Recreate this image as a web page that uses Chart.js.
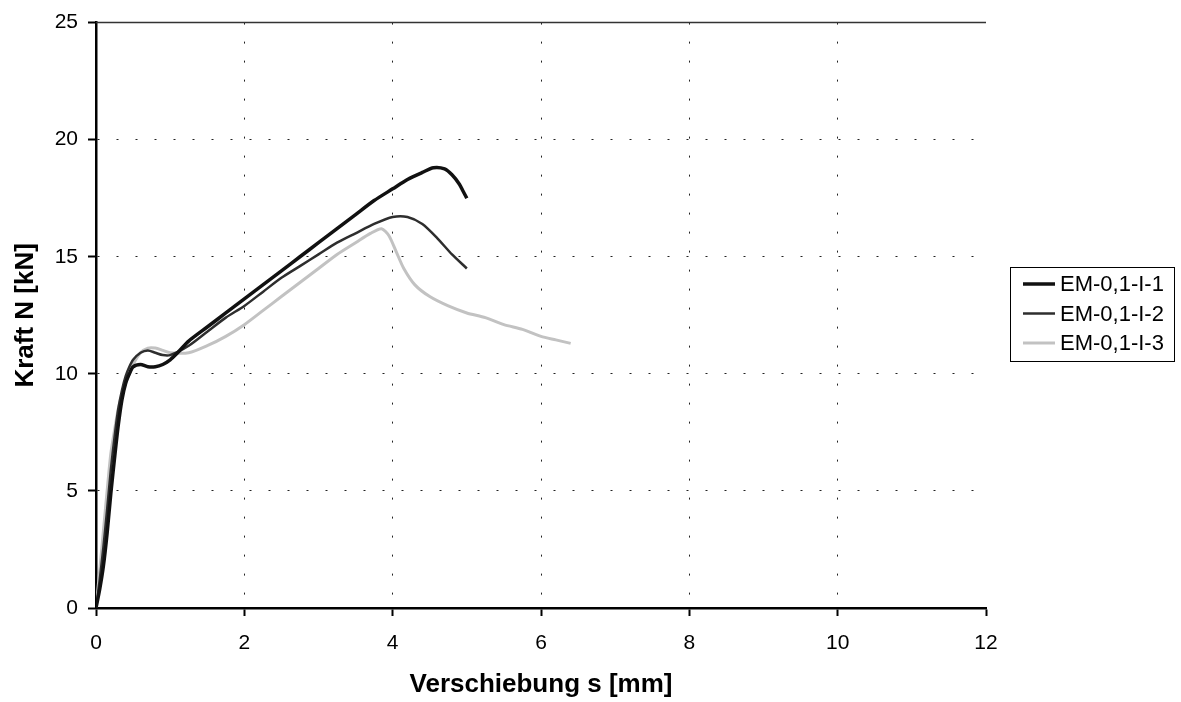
<!DOCTYPE html>
<html>
<head>
<meta charset="utf-8">
<script src="https://cdn.jsdelivr.net/npm/chart.js@4.4.0/dist/chart.umd.min.js"></script>
<style>
  body { margin: 0; background: #fff; }
  #wrap { width: 1181px; height: 702px; }
</style>
</head>
<body>
<div id="wrap"><canvas id="myChart" width="1181" height="702"></canvas></div>
<script>
// values
const xTicks = [0, 2, 4, 6, 8, 10, 12]
const yTicks = [0, 5, 10, 15, 20, 25]

const labels = ['EM-0,1-I-1', 'EM-0,1-I-2', 'EM-0,1-I-3']

const s1x = [0, 0.05, 0.1, 0.15, 0.2, 0.25, 0.3, 0.35, 0.4, 0.45, 0.5, 0.6, 0.7, 0.8, 0.9, 1.0, 1.1, 1.25, 1.5, 1.75, 2.0, 2.25, 2.5, 2.75, 3.0, 3.25, 3.5, 3.75, 4.0, 4.2, 4.4, 4.55, 4.7, 4.8, 4.9, 4.95, 5.0]
const s1y = [0, 0.8, 1.8, 3.2, 4.9, 6.4, 7.8, 8.9, 9.6, 10.0, 10.3, 10.4, 10.3, 10.3, 10.4, 10.6, 10.9, 11.4, 12.0, 12.6, 13.2, 13.8, 14.4, 15.0, 15.6, 16.2, 16.8, 17.4, 17.9, 18.3, 18.6, 18.8, 18.75, 18.5, 18.1, 17.8, 17.5]

const s2x = [0, 0.05, 0.1, 0.15, 0.2, 0.25, 0.3, 0.35, 0.4, 0.45, 0.5, 0.6, 0.7, 0.8, 0.9, 1.0, 1.25, 1.5, 1.75, 2.0, 2.25, 2.5, 2.75, 3.0, 3.25, 3.5, 3.75, 4.0, 4.2, 4.4, 4.6, 4.8, 5.0]
const s2y = [0, 1.2, 2.6, 4.2, 5.9, 7.3, 8.5, 9.3, 9.9, 10.3, 10.6, 10.9, 11.0, 10.9, 10.8, 10.8, 11.2, 11.8, 12.4, 12.9, 13.5, 14.1, 14.6, 15.1, 15.6, 16.0, 16.4, 16.7, 16.7, 16.4, 15.8, 15.1, 14.5]

const s3x = [0, 0.05, 0.1, 0.15, 0.2, 0.25, 0.3, 0.35, 0.4, 0.45, 0.5, 0.6, 0.7, 0.8, 0.9, 1.0, 1.25, 1.5, 1.75, 2.0, 2.25, 2.5, 2.75, 3.0, 3.25, 3.5, 3.7, 3.85, 3.95, 4.05, 4.15, 4.3, 4.5, 4.75, 5.0, 5.25, 5.5, 5.75, 6.0, 6.2, 6.4]
const s3y = [0, 1.6, 3.3, 5.0, 6.6, 7.6, 8.5, 9.1, 9.6, 10.0, 10.4, 10.9, 11.1, 11.1, 11.0, 10.9, 10.9, 11.2, 11.6, 12.1, 12.7, 13.3, 13.9, 14.5, 15.1, 15.6, 16.0, 16.2, 15.9, 15.2, 14.5, 13.8, 13.3, 12.9, 12.6, 12.4, 12.1, 11.9, 11.6, 11.45, 11.3]

const colors = ['#111111', '#2e2e2e', '#c2c2c2']
const widths = [3.5, 2.5, 3]

function pts(xs, ys) {
  return xs.map((x, i) => ({ x: x, y: ys[i] }))
}

const series = [pts(s1x, s1y), pts(s2x, s2y), pts(s3x, s3y)]

// legend with a box, drawn after the chart
const boxLegend = {
  id: 'boxLegend',
  afterDraw(chart) {
    const c = chart.ctx
    const left = 1010, top = 267, w = 164, h = 94
    c.save()
    c.strokeStyle = '#000'
    c.lineWidth = 1
    c.strokeRect(left + 0.5, top + 0.5, w, h)
    c.font = '22px Arial, "Liberation Sans", sans-serif'
    c.textBaseline = 'middle'
    chart.data.datasets.forEach((ds, i) => {
      const y = top + 17 + i * 29.5
      c.strokeStyle = ds.borderColor
      c.lineWidth = ds.borderWidth
      c.beginPath()
      c.moveTo(left + 13, y)
      c.lineTo(left + 45, y)
      c.stroke()
      c.fillStyle = '#000'
      c.fillText(ds.label, left + 50, y + 1)
    })
    c.restore()
  }
}

// top border line
const topLine = {
  id: 'topLine',
  beforeDatasetsDraw(chart) {
    const a = chart.chartArea
    const c = chart.ctx
    c.save()
    c.strokeStyle = '#333'
    c.lineWidth = 1.5
    c.beginPath()
    c.moveTo(a.left, a.top)
    c.lineTo(a.right, a.top)
    c.stroke()
    c.restore()
  }
}

const ctx = document.getElementById('myChart')

new Chart(ctx, {
  type: 'scatter',
  data: {
    datasets: series.map((d, i) => ({
      label: labels[i],
      data: d,
      showLine: true,
      borderColor: colors[i],
      backgroundColor: colors[i],
      borderWidth: widths[i],
      pointRadius: 0,
      tension: 0.25
    }))
  },
  options: {
    responsive: false,
    animation: false,
    layout: { padding: { left: 0, right: 195, top: 21, bottom: 0 } },
    plugins: {
      legend: { display: false },
      tooltip: { enabled: false }
    },
    scales: {
      x: {
        type: 'linear',
        min: xTicks[0],
        max: xTicks[xTicks.length - 1],
        afterBuildTicks: (s) => { s.ticks = xTicks.map(v => ({ value: v })) },
        afterFit: (s) => { s.height = 94 },
        ticks: {
          color: '#000',
          font: { family: 'Arial, "Liberation Sans", sans-serif', size: 21 },
          padding: 15,
          maxRotation: 0
        },
        grid: {
          color: (c) => (c.tick && (c.tick.value === 0 || c.tick.value === 12)) ? 'rgba(0,0,0,0)' : '#222',
          lineWidth: 1,
          tickLength: 8,
          tickColor: '#000',
          tickWidth: 2
        },
        border: { display: true, color: '#000', width: 2.5, dash: [2, 17] },
        title: {
          display: true,
          text: 'Verschiebung s [mm]',
          color: '#000',
          font: { family: 'Arial, "Liberation Sans", sans-serif', size: 26, weight: 'bold' },
          padding: { top: 0, bottom: 2 }
        }
      },
      y: {
        type: 'linear',
        min: yTicks[0],
        max: yTicks[yTicks.length - 1],
        afterBuildTicks: (s) => { s.ticks = yTicks.map(v => ({ value: v })) },
        afterFit: (s) => { s.width = 96 },
        ticks: {
          color: '#000',
          font: { family: 'Arial, "Liberation Sans", sans-serif', size: 21 },
          padding: 10
        },
        grid: {
          color: (c) => (c.tick && (c.tick.value === 0 || c.tick.value === 25)) ? 'rgba(0,0,0,0)' : '#222',
          lineWidth: 1,
          tickLength: 8,
          tickColor: '#000',
          tickWidth: 2
        },
        border: { display: true, color: '#000', width: 2.5, dash: [2, 17] },
        title: {
          display: true,
          text: 'Kraft N [kN]',
          color: '#000',
          font: { family: 'Arial, "Liberation Sans", sans-serif', size: 26, weight: 'bold' },
          padding: { top: 10, bottom: 0 }
        }
      }
    }
  },
  plugins: [topLine, boxLegend]
})
</script>
</body>
</html>
